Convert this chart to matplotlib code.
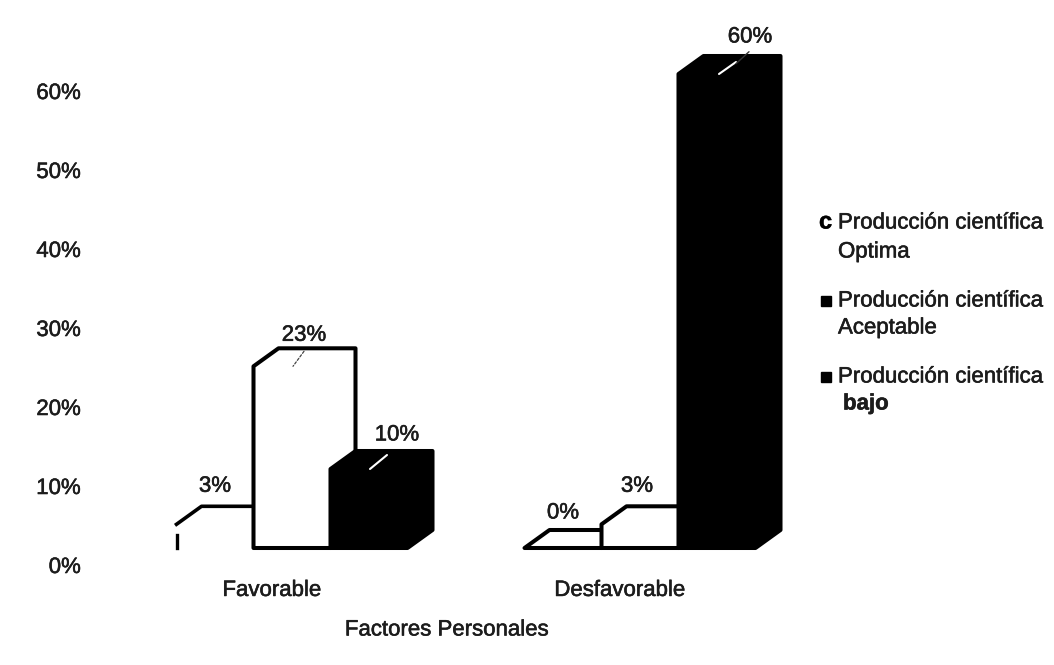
import matplotlib
matplotlib.use("Agg")
import matplotlib.pyplot as plt
import matplotlib.patheffects as pe
from matplotlib.lines import Line2D
from matplotlib.patches import Polygon
from matplotlib.text import Text
from matplotlib.transforms import ScaledTranslation

plt.rcParams["font.family"] = ["Liberation Sans", "DejaVu Sans"]

categories = ["Favorable", "Desfavorable"]
optima = [3, 0]
aceptable = [23, 3]
bajo = [10, 60]
y_ticks = [0, 10, 20, 30, 40, 50, 60]
x_title = "Factores Personales"
legend_labels = [
    "Producción científica\nOptima",
    "Producción científica\nAceptable",
    "Producción científica\nbajo",
]

W, H = 1054, 665
FS = 16
TXT = "#1c1c1c"

fig = plt.figure(figsize=(W / 100, H / 100), dpi=100, facecolor="white")
ax = fig.add_axes([85 / W, 1 - 548 / H, 715 / W, 528 / H])
ax.set_xlim((85 - 292) / 348, (800 - 292) / 348)
ax.set_ylim(0, 528 / 7.9)
for s in ax.spines.values():
    s.set_visible(False)

bar_w = 77 / 348
dx = 25 / 348
dy = 18 / 7.9


def px(x, y):
    return ScaledTranslation(x / 100, y / 100, fig.dpi_scale_trans)


def draw_bar(x0, v, face, z, edge=True):
    x1 = x0 + bar_w
    pts = [(x0, 0), (x0, v), (x0 + dx, v + dy), (x1 + dx, v + dy), (x1 + dx, dy), (x1, 0)]
    ax.add_patch(Polygon(pts, closed=True, facecolor=face, edgecolor="black" if edge else "none",
                         linewidth=2.9, joinstyle="round", clip_on=False, zorder=z))


for g in range(len(categories)):
    left = g - 1.5 * bar_w
    vals = [optima[g], aceptable[g], bajo[g]]
    # el primer bar de Favorable esta casi borrado en el escaneo
    if g == 0:
        ax.plot([left, left + dx, left + bar_w + dx], [vals[0], vals[0] + dy, vals[0] + dy],
                color="black", lw=2.6, clip_on=False, zorder=2)
        ax.plot([left, left], [0, 1.6], color="black", lw=2.4, clip_on=False, zorder=2)
    else:
        draw_bar(left, vals[0], "white", 2)
    draw_bar(left + bar_w, vals[1], "white", 3)
    draw_bar(left + 2 * bar_w, vals[2], "black", 4)

# etiquetas de datos, desplazadas a mano (px) desde el centro del frente del bar
label_offsets = [[(0, 38), (12, 31), (28, 34)], [(0, 35), (-3, 38), (33, 37)]]
for g in range(len(categories)):
    left = g - 1.5 * bar_w
    vals = [optima[g], aceptable[g], bajo[g]]
    for i, v in enumerate(vals):
        ax.annotate(f"{v}%", xy=(left + (i + 0.5) * bar_w, v), xycoords="data",
                    xytext=label_offsets[g][i], textcoords="offset pixels",
                    ha="center", va="center", fontsize=FS, color=TXT, annotation_clip=False, zorder=6)

# lineas guia de las etiquetas
ax.annotate("", xy=(-0.5 * bar_w + bar_w / 2 + 1 / 348, aceptable[0]), xytext=(11, 15), textcoords="offset pixels",
            zorder=6, arrowprops=dict(arrowstyle="-", color="#444444", lw=0.9, ls=(0, (2, 1.5)), shrinkA=0, shrinkB=0))
ax.annotate("", xy=(0.5 * bar_w + bar_w / 2 + 1 / 348, bajo[0]), xytext=(17, 14), textcoords="offset pixels",
            zorder=6, arrowprops=dict(arrowstyle="-", color="white", lw=1.5, shrinkA=0, shrinkB=0))
ax.annotate("", xy=(1 + 0.5 * bar_w + bar_w / 2 + 2 / 348, bajo[1]), xytext=(17, 12), textcoords="offset pixels",
            zorder=6, arrowprops=dict(arrowstyle="-", color="white", lw=1.5, shrinkA=0, shrinkB=0))
ax.annotate("", xy=(1 + 0.5 * bar_w + bar_w / 2 + 19 / 348, bajo[1] + 1.3), xytext=(13, 12), textcoords="offset pixels",
            annotation_clip=False, zorder=6,
            arrowprops=dict(arrowstyle="-", color="#333333", lw=1.0, shrinkA=0, shrinkB=0))

ax.set_yticks(y_ticks)
ax.set_yticklabels([f"{t}%" for t in y_ticks], fontsize=FS, color=TXT)
ax.set_xticks(range(len(categories)))
ax.set_xticklabels(categories, fontsize=FS, color=TXT)
ax.tick_params(axis="both", length=0)
ax.tick_params(axis="y", pad=3)
ax.tick_params(axis="x", pad=23)
for lab in ax.get_yticklabels():
    lab.set_transform(lab.get_transform() + px(0, -17))
for lab in ax.get_xticklabels():
    lab.set_transform(lab.get_transform() + px(-20, 0))

fig.text(447 / W, 1 - 630 / H, x_title, ha="center", va="center", fontsize=FS, color=TXT)

# leyenda
row_y = [(223, 252), (301, 328), (377, 404)]
line_x = [838, 838, 843]
for k, label in enumerate(legend_labels):
    first, second = label.split("\n")
    fig.text(838 / W, 1 - row_y[k][0] / H, first, ha="left", va="center", fontsize=FS, color=TXT)
    fig.text(line_x[k] / W, 1 - row_y[k][1] / H, second, ha="left", va="center", fontsize=FS, color=TXT,
             fontweight="bold" if k == 2 else "normal")
fig.text(819 / W, 1 - 222 / H, "c", ha="left", va="center", fontsize=FS + 1, fontweight="bold", color="black")
for k in (1, 2):
    fig.add_artist(Line2D([826 / W], [1 - row_y[k][0] / H], marker="s", color="black",
                          markersize=6.5 + k / 2, linestyle="none", transform=fig.transFigure))

# el escaneo deja el texto algo mas grueso
for t in fig.findobj(Text):
    t.set_path_effects([pe.withStroke(linewidth=0.4, foreground=TXT)])

fig.savefig("out.png", dpi=100)
